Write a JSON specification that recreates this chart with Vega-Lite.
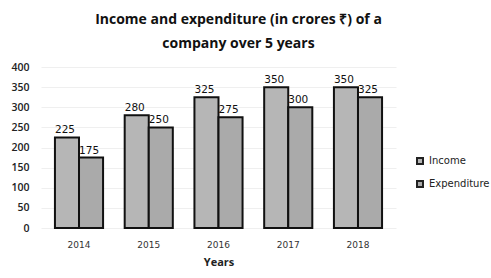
{
  "$schema": "https://vega.github.io/schema/vega-lite/v6.json",
  "autosize": "none",
  "width": 355,
  "height": 161,
  "padding": {"left": 41, "top": 67, "right": 95, "bottom": 50},
  "background": "white",
  "title": {
    "text": ["Income and expenditure (in crores ₹) of a", "company over 5 years"],
    "font": "Open Sans",
    "fontSize": 14,
    "fontWeight": "bold",
    "color": "#111",
    "anchor": "middle",
    "dx": 20,
    "offset": 11,
    "lineHeight": 24
  },
  "data": {
    "values": [
      {"year": "2014", "series": "Income", "value": 225},
      {"year": "2014", "series": "Expenditure", "value": 175},
      {"year": "2015", "series": "Income", "value": 280},
      {"year": "2015", "series": "Expenditure", "value": 250},
      {"year": "2016", "series": "Income", "value": 325},
      {"year": "2016", "series": "Expenditure", "value": 275},
      {"year": "2017", "series": "Income", "value": 350},
      {"year": "2017", "series": "Expenditure", "value": 300},
      {"year": "2018", "series": "Income", "value": 350},
      {"year": "2018", "series": "Expenditure", "value": 325}
    ]
  },
  "encoding": {
    "x": {
      "field": "year", "type": "nominal",
      "scale": {"paddingInner": 0.31},
      "axis": {"title": "Years", "labelAngle": 0, "domain": false, "ticks": false,
               "labelFont": "DejaVu Sans", "labelFontSize": 9, "labelColor": "#333", "labelPadding": 12,
               "titleFont": "Open Sans", "titleFontSize": 11, "titleFontWeight": "bold", "titleColor": "#222", "titlePadding": 7}
    },
    "xOffset": {"field": "series", "type": "nominal", "sort": ["Income", "Expenditure"]},
    "y": {
      "field": "value", "type": "quantitative",
      "scale": {"domain": [0, 400]},
      "axis": {"title": null, "values": [0, 50, 100, 150, 200, 250, 300, 350, 400], "domain": false, "ticks": false,
               "labelFont": "Open Sans", "labelFontSize": 10.5, "labelFontWeight": 600, "labelColor": "#222", "labelPadding": 12,
               "gridColor": "#efefef", "gridWidth": 1}
    }
  },
  "layer": [
    {
      "mark": {"type": "bar", "stroke": "#111", "strokeWidth": 2},
      "encoding": {
        "color": {
          "field": "series", "type": "nominal", "sort": ["Income", "Expenditure"],
          "scale": {"domain": ["Income", "Expenditure"], "range": ["#b6b6b6", "#aaaaaa"]},
          "legend": {"title": null, "symbolType": "square", "symbolSize": 36, "symbolStrokeColor": "#222", "symbolStrokeWidth": 2,
                     "labelFont": "DejaVu Sans", "labelFontSize": 10, "labelColor": "#222", "rowPadding": 9, "labelOffset": 4,
                     "orient": "none", "legendX": 374, "legendY": 89}
        }
      }
    },
    {
      "mark": {"type": "text", "dy": -7, "dx": -2, "font": "DejaVu Sans", "fontSize": 10.5, "color": "#111"},
      "encoding": {"text": {"field": "value", "type": "quantitative"}}
    }
  ],
  "config": {"view": {"stroke": null}}
}
